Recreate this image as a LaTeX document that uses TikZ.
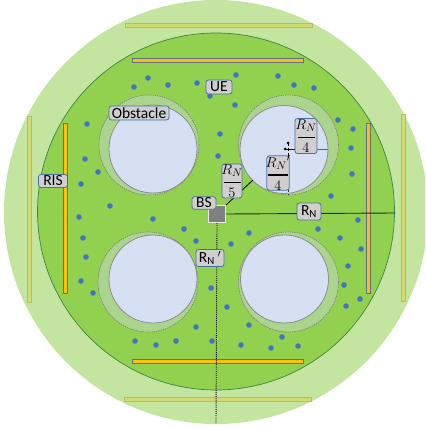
\documentclass[tikz,border=0pt]{standalone}
\usepackage{amsmath}
\usepackage{fontspec}
\setmainfont{Carlito}
\definecolor{cOuter}{HTML}{C3E5A0}
\definecolor{cInner}{HTML}{92D050}
\definecolor{cRing}{HTML}{ABD58E}
\definecolor{cHole}{HTML}{D6E0F2}
\definecolor{cDot}{HTML}{4472C4}
\definecolor{cLabel}{HTML}{D0CECE}
\definecolor{cEdge}{HTML}{4A6FA5}
\definecolor{cPale}{HTML}{D3DC72}
\definecolor{cPaleE}{HTML}{AEBE6A}
\definecolor{cBar}{HTML}{FFC000}
\definecolor{cBarE}{HTML}{5F6F8F}
\pgfdeclarelayer{toplabels}
\pgfsetlayers{main,toplabels}
\tikzset{
  lab/.style={draw=cEdge,line width=0.8pt,fill=cLabel,rounded corners=2.5pt,inner sep=0pt,font=\fontsize{15.5}{16}\selectfont,text=black},
  ring/.style={circle,inner sep=0pt,minimum size=100pt,fill=cRing,draw=black!50,line width=0.7pt,dash pattern=on 1.3pt off 1pt},
  hole/.style={circle,inner sep=0pt,minimum size=88pt,fill=cHole,draw=black!45,line width=0.8pt},
  ue/.style={circle,inner sep=0pt,minimum size=5.6pt,fill=cDot},
  ris/.style={draw=cBarE,line width=0.8pt,fill=cBar},
  pale/.style={draw=cPaleE,line width=0.7pt,fill=cPale},
  tick/.style={circle,inner sep=0pt,minimum size=3pt,fill=black},
}
\newcommand{\fracbar}[3]{\(\genfrac{}{}{1.6pt}{0}{\makebox[#1][c]{$#2$}}{#3}\)}
\begin{document}
\begin{tikzpicture}[x=1pt,y=-1pt]
\clip (0,0) rectangle (425,430);
\node[circle,inner sep=0pt,minimum size=424pt,fill=cOuter] (outer) at (216,212) {};
\node[circle,inner sep=0pt,minimum size=357pt,fill=cInner,draw=green!35!black!75,line width=0.7pt] (inner) at (216,211.5) {};
% pale outer panels
\draw[pale] (125,23) rectangle (312,27);
\draw[pale] (124,397) rectangle (311,401);
\draw[pale] (27,116) rectangle (31,302);
\draw[pale] (401,114) rectangle (405,301);
% RIS bars
\draw[ris] (132,58) rectangle (303,62);
\draw[ris] (132,359) rectangle (303,363);
\draw[ris] (63,123) rectangle (67,293);
\draw[ris] (366,123) rectangle (370,293);
% obstacles
\node[ring] (r1) at (149,145) {};
\node[ring] (r2) at (288.5,145) {};
\node[ring] (r3) at (148,282) {};
\node[ring] (r4) at (288.5,282) {};
\node[hole] (h1) at (153,149) {};
\node[hole] (h2) at (284,149.5) {};
\node[hole] (h3) at (153,279) {};
\node[hole] (h4) at (284.5,279) {};
% users
\foreach \x/\y in {134/87,148/78,168/85,197/83,210/96,236/75,235/105,278/76,294/85,314/88,
  98/172,220/134,218/156,331/196,338/120,318/229,87/124,85/159,81/184,110/206,79/217,83/238,86/257,81/281,93/293,
  353/129,351/148,352/174,358/220,340/238,361/249,348/266,344/285,360/299,346/306,
  153/219,184/229,196/241,211/288,227/307,196/327,249/233,231/244,249/325,
  135/341,156/345,176/341,212/341,241/345,282/337,271/348,298/346}
  \node[ue] at (\x,\y) {};
% base station
\node[draw=white!92!black,line width=1pt,fill=black!50,inner sep=0pt,minimum size=17pt] (bs) at (217,214) {};
% connector ends
\coordinate (east) at (395,213);
\coordinate (south) at (216,424);
\coordinate (rimA) at (253,180);
\coordinate (rimB) at (328,149);
\coordinate (rimC) at (288,195);
\coordinate (rimD) at (288,189);
\coordinate (cL) at (285,149);
\coordinate (cR) at (295,149);
\coordinate (cT) at (288,143);
\coordinate (cB) at (288,156);
% labels
\begin{pgfonlayer}{toplabels}
\node[lab,minimum width=26pt,minimum height=14pt] (lUE) at (219,87) {UE};
\node[lab,minimum width=60pt,minimum height=14pt] (lOb) at (139,113) {Obstacle};
\node[lab,minimum width=29pt,minimum height=13pt] (lRIS) at (53,181) {RIS};
\node[lab,minimum width=24pt,minimum height=12.5pt] (lBS) at (204,203) {BS};
\node[lab,minimum width=24pt,minimum height=17pt] (lRN) at (309,211.5) {R\textsubscript{N}};
\node[lab,minimum width=28pt,minimum height=17pt] (lRNp) at (210,258) {R\textsubscript{N}\,$'$};
\node[lab,minimum width=20pt,minimum height=34pt] (f5) at (232,181) {\fracbar{17pt}{R_N}{5}};
\node[lab,minimum width=22pt,minimum height=34pt] (f4p) at (278,173) {\fracbar{20pt}{R_N{}'}{4}};
\node[lab,minimum width=22pt,minimum height=35pt] (f4) at (306,136) {\fracbar{17pt}{R_N}{4}};
\end{pgfonlayer}
% connectors
\draw[line width=0.9pt,black!85] (bs.east) -- (east);
\draw[line width=0.9pt,densely dotted,black] (bs.south) -- (south);
\draw[line width=0.8pt,black] (bs.north east) -- (rimA);
\draw[line width=0.8pt,black!60] (f4.east |- rimB) -- (rimB);
\draw[line width=0.8pt,densely dashed,black!80] (rimD) -- (rimC);
\draw[line width=0.7pt,black] (cL) -- (cR);
\draw[line width=0.7pt,densely dashed,black] (cT) -- (cB);
\node[tick] (tA) at (cL) {};
\node[tick] (tB) at (cT) {};
\end{tikzpicture}
\end{document}
